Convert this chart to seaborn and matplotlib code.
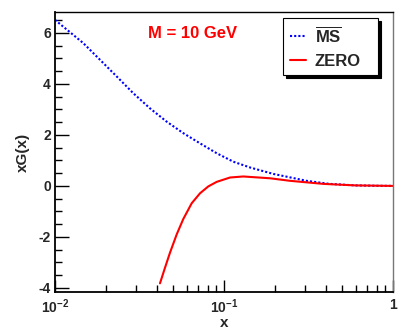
import numpy as np
import pandas as pd
import seaborn as sns
import matplotlib.pyplot as plt
from matplotlib.ticker import MultipleLocator, LogLocator, NullFormatter

# ---------------------
# 1. DATA
# ---------------------
ms_x = [0.01, 0.0147, 0.0185, 0.0232, 0.029, 0.0365, 0.0458, 0.0574, 0.0721,
        0.0906, 0.1135, 0.143, 0.196, 0.308, 0.42, 0.6, 0.8, 1.0]
ms_y = [6.51, 5.6, 4.94, 4.29, 3.64, 3.04, 2.52, 2.07, 1.67,
        1.28, 0.95, 0.72, 0.47, 0.20, 0.08, 0.02, 0.005, 0.0]

zero_x = [0.0418, 0.0448, 0.0479, 0.0525, 0.0574, 0.0644, 0.0721, 0.0807,
          0.0906, 0.1086, 0.130, 0.187, 0.246, 0.387, 0.6, 1.0]
zero_y = [-3.82, -3.2, -2.62, -1.9, -1.3, -0.68, -0.29, -0.02,
          0.16, 0.33, 0.37, 0.30, 0.20, 0.08, 0.02, 0.0]

x_ticks = [0.01, 0.1, 1]
x_ticklabels = [r'$\mathbf{10^{-2}}$', r'$\mathbf{10^{-1}}$', '1']

# ---------------------
# 2. STYLE
# ---------------------
sns.set_style('white')
plt.rcParams['font.family'] = ['Liberation Sans', 'DejaVu Sans']
plt.rcParams['font.weight'] = 'bold'
plt.rcParams['axes.unicode_minus'] = False
plt.rcParams['mathtext.fontset'] = 'custom'
plt.rcParams['mathtext.rm'] = 'Liberation Sans:bold'
plt.rcParams['mathtext.bf'] = 'Liberation Sans:bold'
plt.rcParams['mathtext.default'] = 'bf'

fig = plt.figure(figsize=(4.03, 3.32), dpi=100)
ax = fig.add_axes([55 / 403, 40 / 332, 338 / 403, 280 / 332])

sns.lineplot(x=ms_x, y=ms_y, ax=ax, color='blue', linewidth=1.5,
             linestyle=(0, (1, 1)), label=r'$\overline{\mathbf{MS}}$')
sns.lineplot(x=zero_x, y=zero_y, ax=ax, color='red', linewidth=1.5,
             label='ZERO')

ax.set_xscale('log')
ax.set_xlim(0.01, 1.0)
ax.set_ylim(-4.16, 6.82)

# ROOT-like ticks: inside, left and bottom only
ax.yaxis.set_major_locator(MultipleLocator(2))
ax.yaxis.set_minor_locator(MultipleLocator(0.5))
ax.set_xticks(x_ticks)
ax.set_xticklabels(x_ticklabels)
ax.xaxis.set_minor_locator(LogLocator(base=10, subs=np.arange(2, 10)))
ax.xaxis.set_minor_formatter(NullFormatter())
ax.tick_params(which='both', direction='in', color='black', width=1,
               labelsize=10, left=True, bottom=True, top=False, right=False)
ax.tick_params(axis='y', which='major', length=10, pad=3)
ax.tick_params(axis='y', which='minor', length=5)
ax.tick_params(axis='x', which='major', length=9, pad=4)
ax.tick_params(axis='x', which='minor', length=5)
for t in ax.get_xticklabels() + ax.get_yticklabels():
    t.set_fontweight('bold')

for side in ['left', 'bottom', 'top', 'right']:
    ax.spines[side].set_color('black')
    ax.spines[side].set_linewidth(1.0)
ax.spines['left'].set_linewidth(1.3)
ax.spines['bottom'].set_linewidth(1.3)
ax.spines['right'].set_color('#777777')

ax.set_xlabel('x', fontsize=11, fontweight='bold')
ax.xaxis.set_label_coords(0.5, -0.085)
ax.set_ylabel('xG(x)', fontsize=11, fontweight='bold')
ax.yaxis.set_label_coords(-0.074, 0.5)

fig.text(193 / 403, 1 - 33 / 332, 'M = 10 GeV', color='red', fontsize=12,
         fontweight='bold', ha='center', va='center')

leg = ax.legend(loc='upper left',
                bbox_to_anchor=(283 / 403, 1 - 75 / 332, 95 / 403, 57 / 332),
                bbox_transform=fig.transFigure, borderaxespad=0, mode='expand',
                fancybox=False, edgecolor='black', framealpha=1,
                shadow={'color': 'black', 'alpha': 1},
                prop={'size': 12, 'weight': 'bold'},
                handlelength=1.0, handletextpad=0.5, labelspacing=0.55,
                borderpad=0.4)
leg.get_frame().set_linewidth(0.8)

plt.savefig('out.png', dpi=100)
